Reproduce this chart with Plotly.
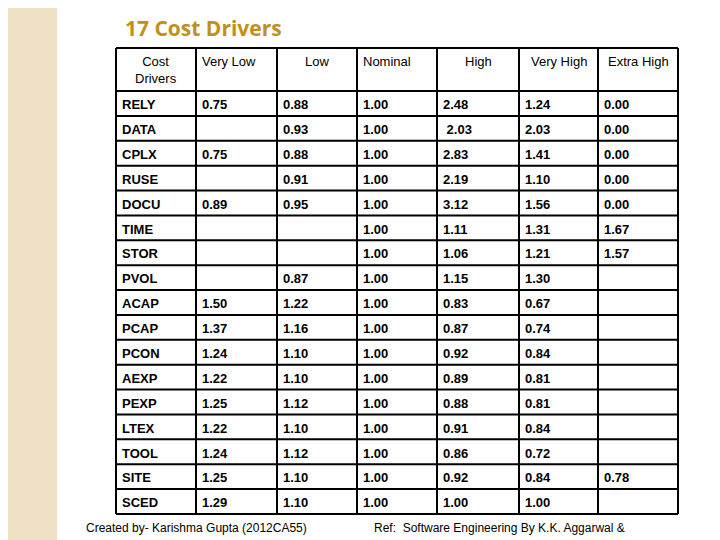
import plotly.graph_objects as go

headers = ["Cost<br>Drivers", "Very Low", "Low", "Nominal", "High", "Very High", "Extra High"]
drivers = ["RELY","DATA","CPLX","RUSE","DOCU","TIME","STOR","PVOL","ACAP","PCAP","PCON","AEXP","PEXP","LTEX","TOOL","SITE","SCED"]
very_low = ["0.75","","0.75","","0.89","","","","1.50","1.37","1.24","1.22","1.25","1.22","1.24","1.25","1.29"]
low = ["0.88","0.93","0.88","0.91","0.95","","","0.87","1.22","1.16","1.10","1.10","1.12","1.10","1.12","1.10","1.10"]
nominal = ["1.00"]*17
high = ["2.48"," 2.03","2.83","2.19","3.12","1.11","1.06","1.15","0.83","0.87","0.92","0.89","0.88","0.91","0.86","0.92","1.00"]
very_high = ["1.24","2.03","1.41","1.10","1.56","1.31","1.21","1.30","0.67","0.74","0.84","0.81","0.81","0.84","0.72","0.84","1.00"]
extra_high = ["0.00","0.00","0.00","0.00","0.00","1.67","1.57","","","","","","","","","0.78",""]
cols = [drivers, very_low, low, nominal, high, very_high, extra_high]

OFF = 8  # page body margin
W, H = 720 - OFF, 540 - OFF
def px(x): return (x - OFF) / W
def py(y): return 1 - (y - OFF) / H

xs = [116, 196, 277, 357, 437, 519, 598, 678]
top, head_bot, bot = 48, 91, 514
n = len(drivers)
rh = (bot - head_bot) / n
ys = [top, head_bot] + [head_bot + (i + 1) * rh for i in range(n)]

FONT = "Liberation Sans Narrow, Liberation Sans"
shapes = [dict(type="rect", xref="paper", yref="paper", x0=0, x1=px(57), y0=0, y1=1,
               fillcolor="#efe2c4", line=dict(width=0), layer="below")]
for x in xs:
    shapes.append(dict(type="line", xref="paper", yref="paper", x0=px(x), x1=px(x), y0=py(top), y1=py(bot),
                       line=dict(color="black", width=2)))
for y in ys:
    shapes.append(dict(type="line", xref="paper", yref="paper", x0=px(xs[0]), x1=px(xs[-1]), y0=py(y), y1=py(y),
                       line=dict(color="black", width=2)))

ann = []
halign = ["center", "left", "center", "left", "center", "center", "center"]
for j, h in enumerate(headers):
    if halign[j] == "center":
        x, xa = (xs[j] + xs[j + 1]) / 2, "center"
    else:
        x, xa = xs[j] + 4, "left"
    ann.append(dict(text=h, x=px(x), y=py(52), xref="paper", yref="paper", xanchor=xa, yanchor="top",
                    showarrow=False, align="center", font=dict(family=FONT, size=13, color="black")))
for j, c in enumerate(cols):
    for i, v in enumerate(c):
        if not v.strip():
            continue
        ann.append(dict(text=f"<b>{v}</b>", x=px(xs[j] + 4), y=py(head_bot + (i + 0.55) * rh),
                        xref="paper", yref="paper", xanchor="left", yanchor="middle", showarrow=False,
                        font=dict(family=FONT, size=13, color="black")))
ann += [
    dict(text="<b>17 Cost Drivers</b>", x=px(123), y=py(28), xref="paper", yref="paper",
         xanchor="left", yanchor="middle", showarrow=False, font=dict(family="Open Sans", size=21, color="#c0901c")),
    dict(text="Created by- Karishma Gupta (2012CA55)", x=px(84), y=py(528), xref="paper", yref="paper",
         xanchor="left", yanchor="middle", showarrow=False, font=dict(family=FONT, size=12, color="black")),
    dict(text="Ref:  Software Engineering By K.K. Aggarwal &amp;", x=px(372), y=py(528), xref="paper", yref="paper",
         xanchor="left", yanchor="middle", showarrow=False, font=dict(family=FONT, size=12, color="black")),
]

fig = go.Figure()
fig.update_layout(width=W, height=H, margin=dict(l=0, r=0, t=0, b=0), paper_bgcolor="white",
                  plot_bgcolor="white", xaxis=dict(visible=False), yaxis=dict(visible=False),
                  shapes=shapes, annotations=ann)
fig.write_html("out.html")
